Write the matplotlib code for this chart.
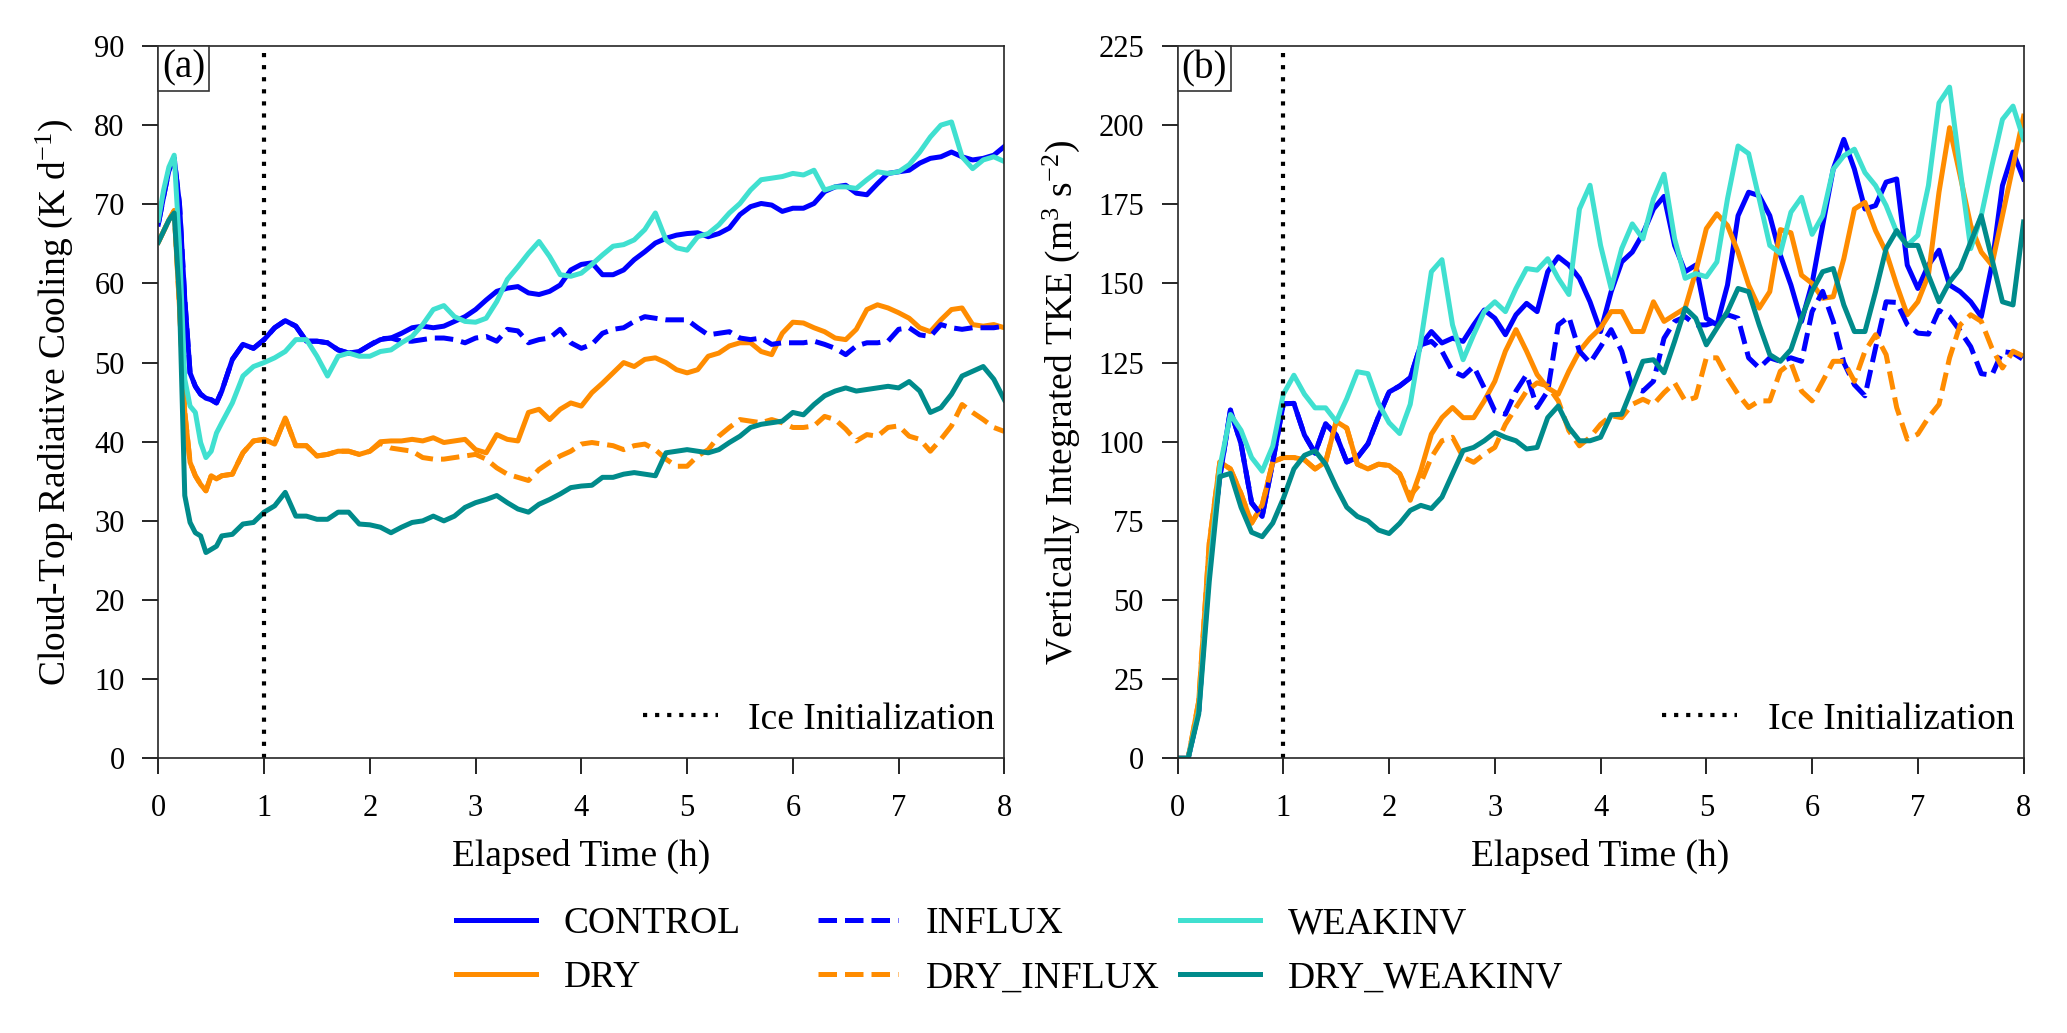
import numpy as np
import matplotlib
matplotlib.use('Agg')
import matplotlib.pyplot as plt
from matplotlib.offsetbox import AnchoredText

plt.rcParams['font.family'] = 'Liberation Serif'
plt.rcParams['mathtext.fontset'] = 'custom'
plt.rcParams['mathtext.rm'] = 'Liberation Serif'
plt.rcParams['mathtext.it'] = 'Liberation Serif:italic'

# ---- panel (a): cloud-top radiative cooling (K/d) ----
# sample times: every 0.05 h up to 0.55 h, then every 0.1 h
t_a = np.concatenate([np.linspace(0, 0.55, 12), np.linspace(0.6, 8.0, 75)])

ctrl_a = [67.5, 71.0, 74.3, 75.8, 70.0, 58.0, 48.7, 47.0, 46.0, 45.5, 45.3, 44.9,
          46.4, 50.4, 52.3, 51.8, 52.9, 54.4, 55.3, 54.6, 52.7, 52.7,
          52.5, 51.6, 51.2, 51.4, 52.2, 52.9, 53.1, 53.7, 54.4, 54.6,
          54.4, 54.6, 55.2, 55.8, 56.7, 57.9, 59.0, 59.4, 59.6, 58.8,
          58.6, 59.0, 59.8, 61.7, 62.4, 62.6, 61.1, 61.1, 61.7, 63.0,
          64.0, 65.1, 65.7, 66.1, 66.3, 66.4, 65.9, 66.3, 67.0, 68.7,
          69.7, 70.1, 69.9, 69.1, 69.5, 69.5, 70.1, 71.6, 72.2, 72.4,
          71.4, 71.2, 72.6, 73.9, 74.1, 74.3, 75.2, 75.8, 76.0, 76.6,
          76.0, 75.6, 75.8, 76.2, 77.3]

dry_a = [65.2, 66.6, 68.0, 69.2, 57.0, 43.7, 37.4, 35.7, 34.6, 33.8, 35.7, 35.3,
         35.7, 35.9, 38.6, 40.1, 40.3, 39.7, 43.0, 39.5, 39.5, 38.2,
         38.4, 38.8, 38.8, 38.4, 38.8, 40.0, 40.1, 40.1, 40.3, 40.1,
         40.5, 39.9, 40.1, 40.3, 39.0, 38.6, 40.9, 40.3, 40.1, 43.7,
         44.1, 42.8, 44.1, 44.9, 44.5, 46.2, 47.4, 48.7, 50.0, 49.5,
         50.4, 50.6, 50.0, 49.1, 48.7, 49.1, 50.8, 51.2, 52.1, 52.5,
         52.5, 51.4, 51.0, 53.7, 55.1, 55.0, 54.4, 53.9, 53.1, 52.9,
         54.2, 56.7, 57.3, 56.9, 56.3, 55.6, 54.4, 53.9, 55.4, 56.7,
         56.9, 54.8, 54.6, 54.8, 54.4]

# INFLUX runs follow their parent run until 2.0 h; values below start at 2.1 h
inf_a_tail = [53.0, 53.1, 52.7, 52.7, 52.9, 53.1, 53.1, 52.9, 52.5, 53.1,
              53.3, 52.7, 54.2, 54.0, 52.5, 52.9, 53.1, 54.2, 52.5, 51.8,
              52.3, 53.7, 54.2, 54.4, 55.2, 55.8, 55.6, 55.4, 55.4, 55.4,
              54.4, 53.5, 53.7, 53.9, 53.1, 52.9, 53.1, 52.3, 52.5, 52.5,
              52.5, 52.7, 52.3, 51.8, 51.0, 52.1, 52.5, 52.5, 52.7, 54.2,
              54.4, 53.5, 53.3, 54.8, 54.4, 54.2, 54.4, 54.4, 54.4, 54.6]

dryinf_a_tail = [39.8, 39.2, 39.0, 38.8, 38.0, 37.8, 37.8, 38.0, 38.2, 38.4,
                 37.8, 36.7, 35.9, 35.5, 35.1, 36.5, 37.4, 38.2, 38.8, 39.7,
                 39.9, 39.7, 39.5, 39.0, 39.5, 39.7, 39.0, 37.8, 36.9, 36.9,
                 38.2, 39.0, 40.7, 41.8, 42.8, 42.6, 42.4, 42.8, 42.4, 41.8,
                 41.8, 42.0, 43.2, 42.8, 41.6, 40.1, 40.9, 40.7, 41.8, 42.0,
                 40.7, 40.3, 38.8, 40.3, 42.0, 44.7, 43.7, 42.8, 41.8, 41.3]

weak_a = [68.0, 71.8, 74.7, 76.2, 64.7, 47.9, 44.5, 43.7, 39.9, 38.0, 38.8, 41.1,
          42.4, 44.9, 48.3, 49.5, 50.0, 50.6, 51.4, 52.9, 52.9, 50.8,
          48.3, 50.8, 51.2, 50.8, 50.8, 51.4, 51.6, 52.5, 53.3, 54.8,
          56.7, 57.2, 55.8, 55.2, 55.1, 55.6, 57.7, 60.5, 62.1, 63.8,
          65.3, 63.4, 61.1, 60.9, 61.3, 62.4, 63.6, 64.7, 64.9, 65.5,
          66.8, 68.9, 65.5, 64.5, 64.2, 65.9, 66.3, 67.4, 68.9, 70.1,
          71.8, 73.1, 73.3, 73.5, 73.9, 73.7, 74.3, 71.8, 72.2, 72.2,
          72.0, 73.1, 74.1, 73.9, 74.1, 75.0, 76.6, 78.5, 80.0, 80.4,
          76.0, 74.5, 75.6, 76.0, 75.4]

dwk_a = [65.2, 66.6, 68.0, 68.9, 58.0, 33.2, 29.8, 28.5, 28.1, 26.0, 26.4, 26.8,
         28.1, 28.3, 29.6, 29.8, 31.1, 31.9, 33.6, 30.6, 30.6, 30.2,
         30.2, 31.1, 31.1, 29.6, 29.5, 29.2, 28.5, 29.2, 29.8, 30.0,
         30.6, 30.0, 30.6, 31.7, 32.3, 32.7, 33.2, 32.3, 31.5, 31.1,
         32.1, 32.7, 33.4, 34.2, 34.4, 34.5, 35.5, 35.5, 35.9, 36.1,
         35.9, 35.7, 38.6, 38.8, 39.0, 38.8, 38.6, 39.0, 39.9, 40.7,
         41.8, 42.2, 42.4, 42.6, 43.7, 43.4, 44.7, 45.8, 46.4, 46.8,
         46.4, 46.6, 46.8, 47.0, 46.8, 47.6, 46.4, 43.7, 44.3, 46.0,
         48.3, 48.9, 49.5, 47.9, 45.3]

# ---- panel (b): vertically integrated TKE (m3/s2), every 0.1 h ----
t_b = np.linspace(0, 8, 81)

ctrl_b = [0, 0, 15, 62, 89, 110, 99.3, 80.7, 76.4, 93.6,
          112, 112.1, 102.1, 96.4, 105.7, 102.1, 93.6, 95, 99.3, 107.9,
          115.7, 117.6, 120.2, 130.6, 134.8, 131.2, 132.7, 131.7, 136.9, 141.6,
          139, 133.8, 140.1, 143.7, 141.1, 153.7, 158.4, 155.8, 151.6, 144.2,
          134.8, 147.4, 156.8, 159.9, 165.7, 173.5, 177.5, 162, 153.7, 155.8,
          139, 136.9, 149.5, 171.4, 178.8, 177.7, 171.4, 158.9, 149.5, 138,
          150, 168.3, 186.1, 195.5, 186.1, 173.5, 174.6, 182, 183, 155.8,
          148.4, 155.8, 160.5, 149.5, 147.4, 144.2, 139.5, 155.8, 180.9, 191.5,
          183]

dry_b = [0, 0, 18, 68, 93.6, 91.4, 83.6, 74.3, 80, 93.6,
         95, 95, 94.3, 91.4, 93.6, 106.4, 104.3, 92.9, 91.4, 92.9,
         92.5, 89.9, 81.5, 90.9, 102.4, 107.6, 110.8, 107.6, 107.6, 112.9,
         119.1, 128.6, 135.4, 128.6, 121.2, 117, 115, 122.3, 128.6, 132.7,
         135.9, 141.1, 141.1, 134.8, 134.8, 144.2, 138, 140.1, 142.2, 153.7,
         167.3, 172, 168.3, 159.9, 149.5, 142.2, 147.4, 167, 166, 152.6,
         150, 145.3, 145.8, 157.8, 173.5, 175.6, 166.7, 159.9, 149.5, 140.1,
         144.2, 152.6, 178.8, 199.2, 184, 168.3, 159.9, 155.8, 171.4, 187.1,
         202.8]

# values from 2.2 h on
inf_b_tail = [120.2, 130.6, 131.7, 128.6, 122.3, 120.7, 123.8, 117,
              109.7, 108.7, 116, 121.2, 110.8, 116, 136.9, 139.5, 128.6, 124.9,
              130, 135.4, 128.6, 117, 116, 119.1, 132.7, 138, 139.5, 136.9,
              136.9, 138, 140.1, 139, 126.5, 123.3, 126.5, 125.4, 126.5, 125.4,
              141.1, 147.5, 138, 125, 118, 114.5, 129.6, 144.2, 144, 137,
              134.3, 134, 141.5, 139.5, 135, 130, 121.5, 121, 128.5, 128,
              125.9]

dryinf_b_tail = [83, 87, 95.1, 100.3, 101.4, 95.1, 93.5, 96.1,
                 98.2, 105.5, 110.8, 116, 118.6, 117.6, 112.9, 103.5, 98.7, 101.4,
                 105.5, 108.2, 107.6, 111.8, 113.4, 111.8, 115.5, 118.6, 112.9, 114,
                 126.5, 126.5, 120.2, 115, 110.8, 112.9, 112.9, 122.3, 124.9, 116,
                 112.9, 119.1, 125.4, 125.4, 119.1, 128.6, 133.8, 127.5, 110.8, 100.8,
                 102.4, 107.6, 111.8, 126.5, 136.9, 140.1, 138, 129.6, 123.3, 128.6,
                 127]

weak_b = [0, 0, 15, 59, 92, 108.6, 103.6, 95, 90.7, 98.6,
          115, 121, 115, 110.7, 110.7, 106.4, 113.6, 122.1, 121.5, 112.1,
          106, 102.6, 111.8, 131.7, 153.7, 157.5, 136.9, 125.9, 133.8, 141.1,
          144.2, 141.1, 148.4, 154.7, 154.2, 157.8, 151.6, 146.5, 173.5, 181,
          162, 148.4, 161, 168.8, 164.1, 176.7, 184.5, 164.1, 151.6, 153.1,
          152.1, 156.8, 176.7, 193.4, 191, 176.7, 162, 159.5, 172.5, 177.2,
          165.5, 171.4, 186.1, 190.3, 192.4, 185, 180.9, 174.6, 166.2, 162,
          165.2, 180.9, 207, 212, 186.1, 161, 171.4, 187.1, 201.8, 206,
          195.5]

dwk_b = [0, 0, 14, 56, 89, 90, 79.3, 71.4, 70, 74.3,
         82.1, 91.4, 95.7, 97.1, 92.9, 85.7, 79.3, 76.4, 75, 72.1,
         71, 74.2, 78.3, 79.9, 78.9, 82.5, 89.9, 97.2, 98.2, 100.3,
         102.9, 101.4, 100.3, 97.7, 98.2, 107.6, 111.3, 104.5, 100.3, 100.3,
         101.4, 108.5, 108.7, 117, 125.4, 125.9, 121.8, 131.7, 142.2, 139,
         130.6, 135.9, 141.1, 148.4, 147.4, 136.9, 127.5, 125.4, 129.1, 139,
         147.6, 153.7, 154.7, 143.2, 134.8, 134.8, 147.4, 161, 166.7, 162,
         162, 152.6, 144.2, 150.5, 154.7, 163.1, 171.4, 157.8, 144.2, 143.2,
         169.4]

ctrl_a, dry_a = np.array(ctrl_a), np.array(dry_a)
ctrl_b, dry_b = np.array(ctrl_b), np.array(dry_b)
inf_a = np.concatenate([ctrl_a[t_a < 2.05], inf_a_tail])
dryinf_a = np.concatenate([dry_a[t_a < 2.05], dryinf_a_tail])
inf_b = np.concatenate([ctrl_b[t_b < 2.15], inf_b_tail])
dryinf_b = np.concatenate([dry_b[t_b < 2.15], dryinf_b_tail])

names = ['CONTROL', 'DRY', 'INFLUX', 'DRY_INFLUX', 'WEAKINV', 'DRY_WEAKINV']
colors = ['#0000ff', '#ff8c00', '#0000ff', '#ff8c00', '#40e0d0', '#008b8b']
styles = ['-', '-', '--', '--', '-', '-']
series_a = [ctrl_a, dry_a, inf_a, dryinf_a, weak_a, dwk_a]
series_b = [ctrl_b, dry_b, inf_b, dryinf_b, weak_b, dwk_b]

dot = (0, (1, 1.9))
FS = 13.5

fig = plt.figure(figsize=(10.335, 5.165), dpi=200)
ax1 = fig.add_axes([0.0766, 0.2659, 0.4093, 0.6896])
ax2 = fig.add_axes([0.5697, 0.2659, 0.4093, 0.6896])


def panel(ax, t, series, ymax, ystep, ylabel, tag, ylab_x):
    handles = []
    for y, c, ls, n in zip(series, colors, styles, names):
        h, = ax.plot(t, y, color=c, ls=ls, lw=1.8, label=n)
        handles.append(h)
    vl = ax.axvline(1, color='k', ls=dot, lw=1.5)
    ax.set_xlim(0, 8)
    ax.set_ylim(0, ymax)
    ax.set_xticks(range(0, 9))
    ax.set_yticks(np.arange(0, ymax + 1, ystep))
    ax.tick_params(direction='out', length=5.8, width=0.6, labelsize=11)
    ax.tick_params(axis='x', pad=7)
    ax.tick_params(axis='y', pad=6.3)
    for s in ax.spines.values():
        s.set_linewidth(0.6)
        s.set_color('0.15')
    ax.set_xlabel('Elapsed Time (h)', fontsize=FS)
    ax.set_ylabel(ylabel, fontsize=FS)
    ax.xaxis.set_label_coords(0.5, -0.113)
    ax.yaxis.set_label_coords(ylab_x, 0.5)
    ax.legend([vl], ['Ice Initialization'], loc='center right',
              bbox_to_anchor=(0.989, 0.0548), frameon=False, fontsize=FS,
              handlelength=2.0, handletextpad=0.82, borderpad=0, borderaxespad=0)
    at = AnchoredText(tag, loc='upper left', prop=dict(size=14), frameon=True,
                      pad=0.1, borderpad=0)
    at.patch.set_linewidth(0.6)
    at.patch.set_edgecolor('0.2')
    ax.add_artist(at)
    return handles


hs = panel(ax1, t_a, series_a, 90, 10, 'Cloud-Top Radiative Cooling (K d$^{-1}$)', '(a)', -0.0985)
panel(ax2, t_b, series_b, 225, 25, 'Vertically Integrated TKE (m$^{3}$ s$^{-2}$)', '(b)', -0.113)

# shared legend, one block per column
for i, x in enumerate([0.2206, 0.3957, 0.5709]):
    fig.legend(handles=hs[2 * i:2 * i + 2], loc='center left', bbox_to_anchor=(x, 0.0794),
               frameon=False, fontsize=FS, handlelength=2.13, handletextpad=0.75,
               labelspacing=0.52, borderpad=0, borderaxespad=0)

fig.savefig('out.png', dpi=200, facecolor='white')
